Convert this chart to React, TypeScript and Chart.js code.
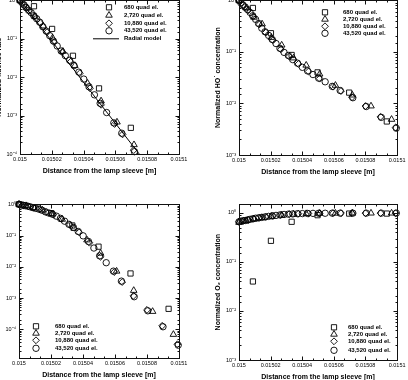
import React, { useEffect, useRef } from "react";
import { Chart, registerables } from "chart.js";

Chart.register(...registerables);

const FONT = "'Liberation Sans', Arial, Helvetica, sans-serif";

// Radial node positions [m] of the four grids
const xQuad680 = [0.015, 0.0150088, 0.0150202, 0.0150333, 0.0150497, 0.0150697, 0.0150935];
const xQuad2720 = [
  0.015, 0.0150045, 0.0150095, 0.0150146, 0.0150205, 0.015027, 0.0150345, 0.0150425, 0.015051,
  0.015061, 0.0150717, 0.0150835, 0.0150965,
];
const xQuad10880 = [
  0.015, 0.0150027, 0.0150058, 0.0150091, 0.0150128, 0.015017, 0.0150215, 0.0150265, 0.0150318,
  0.0150376, 0.015044, 0.015051, 0.0150595, 0.0150645, 0.0150715, 0.01508, 0.0150895, 0.015099,
];
const xQuad43520 = [
  0.015, 0.0150012, 0.0150025, 0.0150039, 0.0150054, 0.015007, 0.0150087, 0.0150105, 0.0150124,
  0.0150144, 0.0150165, 0.0150187, 0.015021, 0.0150234, 0.0150259, 0.0150285, 0.0150312, 0.015034,
  0.015037, 0.0150401, 0.0150434, 0.0150468, 0.0150504, 0.0150545, 0.015059, 0.015064, 0.015072,
  0.0150805, 0.01509, 0.0150995,
];

const seriesNames = ["680 quad el.", "2,720 quad el.", "10,880 quad el.", "43,520 quad el."];
const modelName = "Radial model";

// Normalized fluence rate
const fluence680 = [1, 0.7, 0.18, 0.036, 0.0051, 0.00048];
const fluence2720 = [1, 0.631, 0.372, 0.214, 0.105, 0.0468, 0.02, 0.00692, 0.0024, 0.000676, 0.000174];
const fluence10880 = [
  1, 0.741, 0.531, 0.38, 0.254, 0.148, 0.0813, 0.0447, 0.0251, 0.0126, 0.00513, 0.00191, 0.000603,
  0.000324, 0.000126,
];
const fluence43520 = [
  1, 0.871, 0.759, 0.646, 0.55, 0.479, 0.398, 0.331, 0.269, 0.204, 0.158, 0.12, 0.0871, 0.0646,
  0.0479, 0.0363, 0.0275, 0.02, 0.0135, 0.00891, 0.00562, 0.00347, 0.00209, 0.0012, 0.000646,
  0.000347, 0.000115,
];
const fluenceModelX = [0.015, 0.015025, 0.01505, 0.015075];
const fluenceModelY = [1, 0.0468, 0.00214, 0.0001];

// Normalized HO• concentration
const hydroxyl680 = [1, 0.71, 0.23, 0.087, 0.04, 0.0162, 0.00447];
const hydroxyl2720 = [1, 0.708, 0.468, 0.347, 0.19, 0.135, 0.076, 0.055, 0.037, 0.0224, 0.0145, 0.0089, 0.0049];
const hydroxyl10880 = [
  1, 0.804, 0.638, 0.484, 0.339, 0.237, 0.168, 0.112, 0.0813, 0.0582, 0.0417, 0.0302, 0.0211, 0.0174,
  0.0132, 0.0089, 0.0055, 0.0034,
];
const hydroxyl43520 = [
  1, 0.891, 0.813, 0.741, 0.661, 0.582, 0.501, 0.427, 0.355, 0.288, 0.245, 0.209, 0.174, 0.145, 0.117,
  0.0977, 0.0851, 0.0708, 0.0603, 0.0501, 0.0427, 0.0363, 0.0309, 0.0263, 0.0214, 0.0178, 0.0129,
  0.00871, 0.00537, 0.00331,
];

// Normalized H2O2 concentration
const peroxide680 = [1, 0.8, 0.52, 0.21, 0.044, 0.0061, 0.00045];
const peroxide2720 = [1, 0.9, 0.77, 0.65, 0.49, 0.33, 0.17, 0.072, 0.027, 0.0072, 0.00174, 0.00037, 0.000068];
const peroxide10880 = [
  1, 0.929, 0.861, 0.776, 0.692, 0.562, 0.468, 0.339, 0.219, 0.126, 0.0589, 0.0209, 0.00676, 0.00324,
  0.00117, 0.000417, 0.000129, 0.0000331,
];
const peroxide43520 = [
  1, 0.955, 0.933, 0.902, 0.871, 0.832, 0.785, 0.741, 0.7, 0.646, 0.575, 0.525, 0.479, 0.417, 0.355,
  0.288, 0.229, 0.182, 0.135, 0.0977, 0.0646, 0.0398, 0.0224, 0.0135, 0.00724, 0.00347, 0.0011,
  0.000389, 0.00012, 0.0000309,
];

// Normalized O2 concentration
const oxygen680 = [null, 0.04, 0.27, 0.66, 0.9, 0.97, 0.97];
const oxygen2720 = [0.64, 0.69, 0.75, 0.8, 0.85, 0.9, 0.94, 0.965, 0.98, 0.985, 0.99, 0.99, 0.99];
const oxygen10880 = [
  0.66, 0.69, 0.72, 0.76, 0.795, 0.83, 0.87, 0.91, 0.945, 0.965, 0.975, 0.985, 0.99, 0.99, 0.99, 0.99,
  0.99, 0.99,
];
const oxygen43520 = [
  0.66, 0.68, 0.69, 0.7, 0.72, 0.74, 0.76, 0.78, 0.795, 0.81, 0.83, 0.85, 0.87, 0.89, 0.91, 0.93,
  0.945, 0.955, 0.965, 0.97, 0.975, 0.98, 0.985, 0.985, 0.99, 0.99, 0.99, 0.99, 0.99, 0.99,
];

const X_MIN = 0.015;
const X_MAX = 0.0151;
const X_STEP = 0.00002;
const X_TITLE = "Distance from the lamp sleeve [m]";

const meshX = [xQuad680, xQuad2720, xQuad10880, xQuad43520];
const markerStyles = ["rect", "triangle", "rectRot", "circle"] as const;
const markerRadii = [3.7, 3.8, 3.4, 3.2];

type Rect = { left: number; top: number; width: number; height: number; padRight: number };
type LegendSpec = { marker: number; text: number; rows: number[]; line?: { x0: number; x1: number; y: number } };
type Panel = {
  key: string;
  yTitle: string;
  yMin: number;
  yMax: number;
  series: (number | null)[][];
  model?: { x: number[]; y: number[] };
  area: Rect;
  legend: LegendSpec;
};

const panels: Panel[] = [
  {
    key: "fluence",
    yTitle: "Normalized fluence rate",
    yMin: 1e-4,
    yMax: 1,
    series: [fluence680, fluence2720, fluence10880, fluence43520],
    model: { x: fluenceModelX, y: fluenceModelY },
    area: { left: 20, top: 0, width: 159, height: 154, padRight: 25 },
    legend: { marker: 89, text: 104, rows: [7, 15, 23, 30.5], line: { x0: 73, x1: 99, y: 38 } },
  },
  {
    key: "hydroxyl",
    yTitle: "Normalized HO\u02D9 concentration",
    yMin: 1e-3,
    yMax: 1,
    series: [hydroxyl680, hydroxyl2720, hydroxyl10880, hydroxyl43520],
    area: { left: 239, top: 0, width: 159, height: 155, padRight: 10 },
    legend: { marker: 86, text: 104, rows: [12, 19, 26, 33] },
  },
  {
    key: "peroxide",
    yTitle: "Normalized H\u2082O\u2082 concentration",
    yMin: 1.2e-5,
    yMax: 1,
    series: [peroxide680, peroxide2720, peroxide10880, peroxide43520],
    area: { left: 19, top: 204, width: 160, height: 154, padRight: 25 },
    legend: { marker: 17, text: 36, rows: [122, 129, 136, 144] },
  },
  {
    key: "oxygen",
    yTitle: "Normalized O\u2082 concentration",
    yMin: 1e-3,
    yMax: 1.5,
    series: [oxygen680, oxygen2720, oxygen10880, oxygen43520],
    area: { left: 239, top: 204, width: 160, height: 156, padRight: 9 },
    legend: { marker: 95, text: 109, rows: [123, 130, 137, 146] },
  },
];

const Y_AXIS_W = 35;
const X_AXIS_H = 24;
const PAD_TOP = 6;

const SUP: Record<string, string> = {
  "-": "\u207B", "0": "\u2070", "1": "\u00B9", "2": "\u00B2", "3": "\u00B3",
  "4": "\u2074", "5": "\u2075", "6": "\u2076",
};

function decadeExponent(v: number): number | null {
  const e = Math.log10(v);
  const r = Math.round(e);
  return Math.abs(e - r) < 1e-6 ? r : null;
}

function powerLabel(v: number): string {
  const e = decadeExponent(v);
  if (e === null) return "";
  return "10" + String(e).split("").map((c) => SUP[c] ?? c).join("");
}

function drawMarker(ctx: CanvasRenderingContext2D, style: string, x: number, y: number, r: number) {
  ctx.beginPath();
  if (style === "rect") {
    const s = r * Math.SQRT1_2;
    ctx.rect(x - s, y - s, 2 * s, 2 * s);
  } else if (style === "triangle") {
    for (let i = 0; i < 3; i++) {
      const a = (i * 2 * Math.PI) / 3;
      const px = x + Math.sin(a) * r;
      const py = y - Math.cos(a) * r;
      if (i === 0) ctx.moveTo(px, py);
      else ctx.lineTo(px, py);
    }
    ctx.closePath();
  } else if (style === "rectRot") {
    ctx.moveTo(x, y - r);
    ctx.lineTo(x + r, y);
    ctx.lineTo(x, y + r);
    ctx.lineTo(x - r, y);
    ctx.closePath();
  } else {
    ctx.arc(x, y, r, 0, Math.PI * 2);
  }
  ctx.stroke();
}

function framePlugin(panel: Panel) {
  return {
    id: "frame-" + panel.key,
    afterDraw(chart: any) {
      const { ctx, chartArea: a, scales } = chart;
      const xs = scales.x;
      const ys = scales.y;
      const L = Math.round(a.left) + 0.5;
      const R = Math.round(a.right) + 0.5;
      const T = Math.round(a.top) + 0.5;
      const B = Math.round(a.bottom) + 0.5;
      ctx.save();
      ctx.strokeStyle = "#111";
      ctx.lineWidth = 1;
      ctx.strokeRect(L, T, R - L, B - T);

      // inward tick marks on all four sides
      ctx.beginPath();
      for (const t of ys.ticks) {
        const py = Math.round(ys.getPixelForValue(t.value)) + 0.5;
        if (py < T - 0.1 || py > B + 0.1) continue;
        const len = decadeExponent(t.value) !== null ? 4 : 2;
        ctx.moveTo(L, py);
        ctx.lineTo(L + len, py);
        ctx.moveTo(R, py);
        ctx.lineTo(R - len, py);
      }
      const xt = xs.ticks.map((t: any) => t.value);
      for (let i = 0; i < xt.length; i++) {
        const px = Math.round(xs.getPixelForValue(xt[i])) + 0.5;
        ctx.moveTo(px, B);
        ctx.lineTo(px, B - 4);
        ctx.moveTo(px, T);
        ctx.lineTo(px, T + 4);
        if (i < xt.length - 1) {
          for (const k of [1, 2]) {
            const v = xt[i] + ((xt[i + 1] - xt[i]) * k) / 3;
            const mx = Math.round(xs.getPixelForValue(v)) + 0.5;
            ctx.moveTo(mx, B);
            ctx.lineTo(mx, B - 2);
            ctx.moveTo(mx, T);
            ctx.lineTo(mx, T + 2);
          }
        }
      }
      ctx.stroke();

      // legend inside the plot
      const lg = panel.legend;
      ctx.strokeStyle = "#000";
      ctx.lineWidth = 0.9;
      ctx.fillStyle = "#000";
      ctx.font = `bold 6px ${FONT}`;
      ctx.textBaseline = "middle";
      ctx.textAlign = "left";
      seriesNames.forEach((name, i) => {
        const y = a.top + lg.rows[i];
        drawMarker(ctx, markerStyles[i], a.left + lg.marker, y, markerRadii[i]);
        ctx.fillText(name, a.left + lg.text, y);
      });
      if (lg.line) {
        ctx.lineWidth = 1;
        ctx.beginPath();
        ctx.moveTo(a.left + lg.line.x0, a.top + lg.line.y + 0.5);
        ctx.lineTo(a.left + lg.line.x1, a.top + lg.line.y + 0.5);
        ctx.stroke();
        ctx.fillText(modelName, a.left + lg.text, a.top + lg.line.y);
      }
      ctx.restore();
    },
  };
}

function toPoints(xs: number[], ys: (number | null)[]) {
  const pts: { x: number; y: number }[] = [];
  for (let i = 0; i < Math.min(xs.length, ys.length); i++) {
    const y = ys[i];
    if (y !== null) pts.push({ x: xs[i], y });
  }
  return pts;
}

function PanelChart({ panel }: { panel: Panel }) {
  const ref = useRef<HTMLCanvasElement>(null);
  const ar = panel.area;
  const w = Y_AXIS_W + ar.width + ar.padRight;
  const h = PAD_TOP + ar.height + X_AXIS_H;
  const left = ar.left - Y_AXIS_W;
  const top = ar.top - PAD_TOP;

  useEffect(() => {
    const datasets: any[] = [];
    if (panel.model) {
      datasets.push({
        label: modelName,
        data: toPoints(panel.model.x, panel.model.y),
        showLine: true,
        borderColor: "#000",
        borderWidth: 1,
        pointRadius: 0,
        fill: false,
      });
    }
    panel.series.forEach((ys, i) => {
      datasets.push({
        label: seriesNames[i],
        data: toPoints(meshX[i], ys),
        showLine: false,
        pointStyle: markerStyles[i],
        pointRadius: markerRadii[i],
        pointBorderWidth: 0.9,
        pointBorderColor: "#000",
        pointBackgroundColor: "rgba(0,0,0,0)",
        clip: 5,
      });
    });

    const chart = new Chart(ref.current as HTMLCanvasElement, {
      type: "scatter",
      data: { datasets },
      options: {
        responsive: false,
        animation: false,
        devicePixelRatio: 1,
        events: [],
        layout: { padding: { left: 0, top: PAD_TOP, right: ar.padRight, bottom: 0 } },
        plugins: { legend: { display: false }, tooltip: { enabled: false } },
        scales: {
          x: {
            type: "linear",
            min: X_MIN,
            max: X_MAX,
            grid: { display: false, drawTicks: false },
            border: { display: false },
            ticks: {
              stepSize: X_STEP,
              autoSkip: false,
              maxRotation: 0,
              padding: 2.5,
              color: "#000",
              font: { family: FONT, size: 5.5 },
              callback: (v: any) => String(parseFloat(Number(v).toFixed(6))),
            },
            title: {
              display: true,
              text: X_TITLE,
              color: "#000",
              font: { family: FONT, size: 7, weight: "bold" },
              padding: { top: 0, bottom: 2.8 },
            },
            afterFit: (s: any) => {
              s.height = X_AXIS_H;
            },
          },
          y: {
            type: "logarithmic",
            min: panel.yMin,
            max: panel.yMax,
            grid: { display: false, drawTicks: false },
            border: { display: false },
            ticks: {
              autoSkip: false,
              padding: 3,
              color: "#000",
              font: { family: FONT, size: 5.5 },
              callback: (v: any) => powerLabel(Number(v)),
            },
            title: {
              display: true,
              text: panel.yTitle,
              color: "#000",
              font: { family: FONT, size: 7, weight: "bold" },
              padding: { top: 10.3, bottom: 0 },
            },
            afterFit: (s: any) => {
              s.width = Y_AXIS_W;
            },
          },
        },
      } as any,
      plugins: [framePlugin(panel)],
    });
    return () => chart.destroy();
  }, [panel]);

  return (
    <canvas
      ref={ref}
      width={w}
      height={h}
      style={{ position: "absolute", left, top, width: w, height: h, display: "block" }}
    />
  );
}

export default function App() {
  return (
    <div
      style={{
        position: "absolute",
        left: 0,
        top: 0,
        width: 408,
        height: 380,
        overflow: "hidden",
        background: "#fff",
      }}
    >
      {panels.map((p) => (
        <PanelChart key={p.key} panel={p} />
      ))}
    </div>
  );
}
